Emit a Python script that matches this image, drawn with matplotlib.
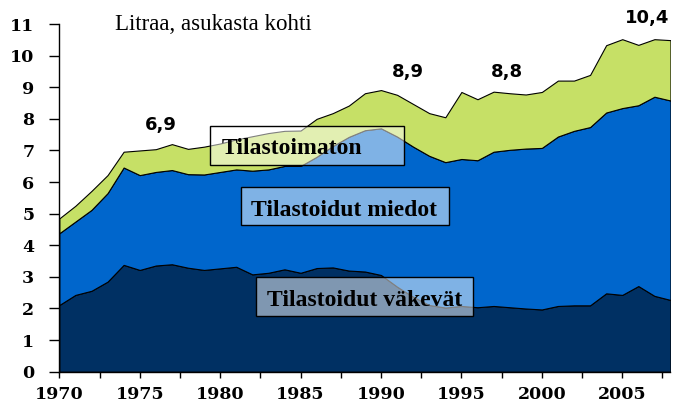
import matplotlib
matplotlib.use('Agg')
import matplotlib.pyplot as plt
from matplotlib.patches import Rectangle
from matplotlib.ticker import MultipleLocator
import numpy as np

COLOR_VAKEVAT = '#003063'
COLOR_MIEDOT = '#0066cc'
COLOR_TILASTOIMATON = '#c6e066'

years = np.arange(1970, 2009)

vakevat = [2.11, 2.43, 2.56, 2.85, 3.38, 3.22, 3.36, 3.40, 3.29, 3.22,
           3.27, 3.32, 3.08, 3.13, 3.24, 3.13, 3.28, 3.30, 3.20, 3.17,
           3.06, 2.69, 2.37, 2.11, 2.03, 2.08, 2.04, 2.08, 2.04, 2.00,
           1.97, 2.08, 2.10, 2.10, 2.48, 2.43, 2.71, 2.40, 2.27]
miedot = [2.27, 2.32, 2.56, 2.80, 3.08, 3.00, 2.96, 2.98, 2.96, 3.02,
          3.05, 3.08, 3.28, 3.27, 3.27, 3.38, 3.52, 3.84, 4.23, 4.47,
          4.64, 4.75, 4.75, 4.72, 4.60, 4.65, 4.65, 4.88, 4.98, 5.06,
          5.11, 5.36, 5.52, 5.64, 5.72, 5.91, 5.72, 6.30, 6.31]
tilastoimaton = [0.47, 0.50, 0.60, 0.57, 0.50, 0.78, 0.72, 0.82, 0.80, 0.88,
                 0.90, 0.95, 1.09, 1.15, 1.11, 1.12, 1.20, 1.04, 0.99, 1.17,
                 1.21, 1.32, 1.35, 1.35, 1.42, 2.12, 1.93, 1.90, 1.79, 1.71,
                 1.77, 1.77, 1.59, 1.65, 2.13, 2.18, 1.91, 1.82, 1.91]

labels = ['Tilastoidut väkevät', 'Tilastoidut miedot', 'Tilastoimaton']
highlights = ['6,9', '8,9', '8,8', '10,4']

fig = plt.figure(figsize=(6.74, 4.05), dpi=100, facecolor='w')
ax = fig.add_axes([0.088, 0.0822, 0.9068, 0.8585])

ax.stackplot(years, vakevat, miedot, tilastoimaton,
             colors=[COLOR_VAKEVAT, COLOR_MIEDOT, COLOR_TILASTOIMATON],
             edgecolor='black', linewidth=0.8)

ax.set_xlim(1970, 2008)
ax.set_ylim(0, 11)
ax.xaxis.set_major_locator(MultipleLocator(5))
ax.xaxis.set_minor_locator(MultipleLocator(2.5))
ax.yaxis.set_major_locator(MultipleLocator(1))

for s in ['top', 'right']:
    ax.spines[s].set_visible(False)
ax.spines['left'].set_linewidth(1.0)
ax.spines['bottom'].set_linewidth(1.0)

ax.tick_params(axis='x', which='both', direction='out', length=4, width=1, pad=6)
ax.tick_params(axis='y', direction='out', length=7, width=1, pad=11)
for t in ax.get_xticklabels() + ax.get_yticklabels():
    t.set_fontfamily('DejaVu Serif')
    t.set_fontweight('bold')
    t.set_fontsize(12.5)

# title text
fig.text(115 / 674, 1 - 25 / 405, 'Litraa, asukasta kohti', family='Liberation Serif',
         fontsize=16.5, va='center', ha='left')

# labelled boxes (x0, x1, y0, y1, text x, text baseline)
boxes = [(1979.36, 1991.43, 6.54, 7.78, 1980.1, 6.88),
         (1981.28, 1994.24, 4.64, 5.85, 1981.9, 4.93),
         (1982.23, 1995.75, 1.77, 2.99, 1982.9, 2.09)]
box_labels = [labels[2], labels[1], labels[0]]
for (x0, x1, y0, y1, tx, ty), lab in zip(boxes, box_labels):
    ax.add_patch(Rectangle((x0, y0), x1 - x0, y1 - y0, facecolor=(1, 1, 1, 0.5),
                           edgecolor='black', linewidth=1.0, zorder=5))
    ax.text(tx, ty, lab, family='Liberation Serif', fontweight='bold', fontsize=17,
            va='baseline', ha='left', zorder=6)

# highlighted totals
hl_pos = [(1976.3, 7.8, 'center'), (1991.7, 9.49, 'center'), (1997.8, 9.49, 'center'),
          (2007.95, 11.2, 'right')]
for (x, y, ha), txt in zip(hl_pos, highlights):
    ax.text(x, y, txt, family='DejaVu Sans', fontweight='bold', fontsize=13,
            ha=ha, va='center', clip_on=False)

plt.savefig('out.png', dpi=100)
